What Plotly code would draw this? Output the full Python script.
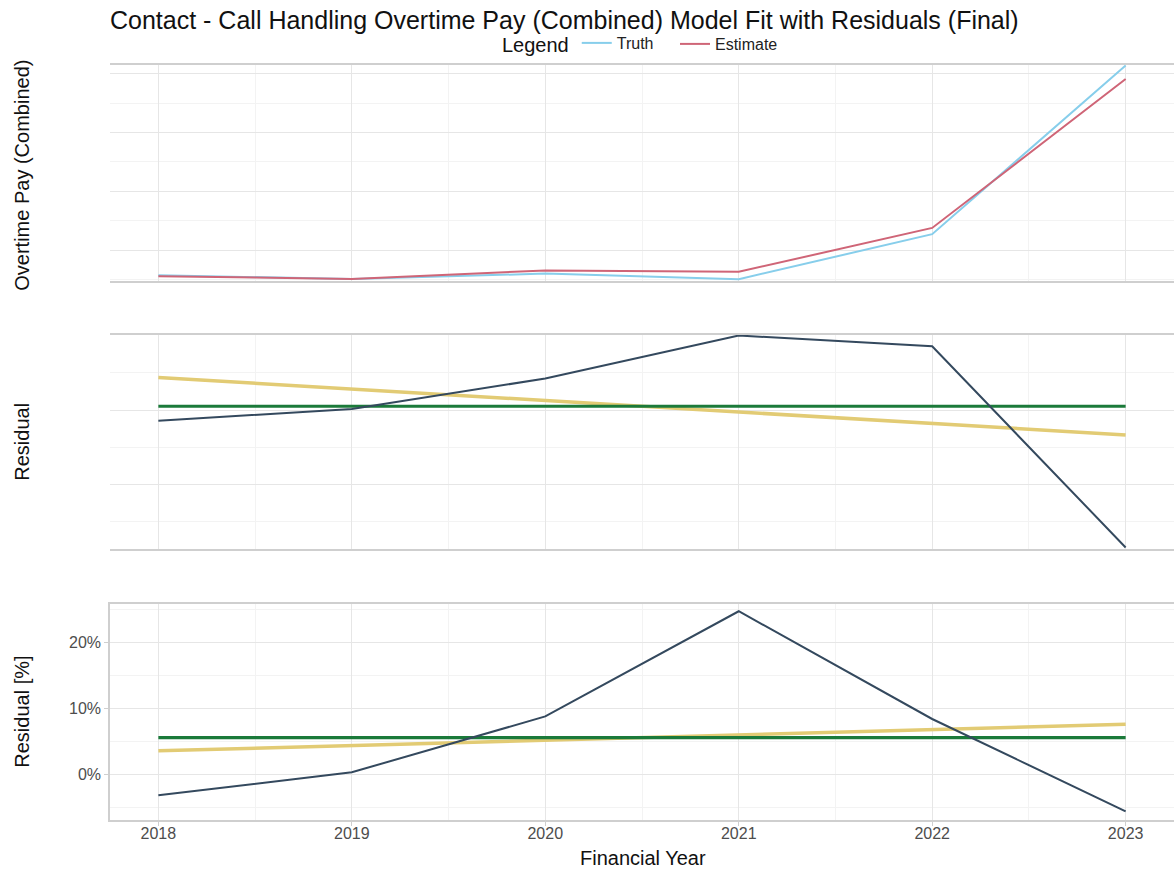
import numpy as np
import plotly.graph_objects as go

# Financial years and model values (GBP)
years = [2018, 2019, 2020, 2021, 2022, 2023]
truth = [22900, 20300, 24000, 20200, 50800, 165600]
estimate = [22180, 20370, 26110, 25190, 55070, 156390]

truth_arr = np.array(truth, dtype=float)
est_arr = np.array(estimate, dtype=float)
residual = est_arr - truth_arr
residual_pct = residual / truth_arr * 100

# Mean level and linear trend of the residuals
res_mean = np.full(len(years), residual.mean())
res_fit = np.polyval(np.polyfit(years, residual, 1), years)
pct_mean = np.full(len(years), residual_pct.mean())
pct_fit = np.polyval(np.polyfit(years, residual_pct, 1), years)

C_TRUTH = "#87CEEB"
C_EST = "#CF6577"
C_RES = "#34495E"
C_MEAN = "#1B7A3A"
C_TREND = "#E2CB74"
FONT = "Liberation Sans, Arial, sans-serif"
GRID = "#E6E6E6"
GRID_MINOR = "#F3F3F3"
AXLINE = "#CFCFCF"

W, H = 1174, 875
L = 110


def py(px):
    return 1 - px / H


def pxx(px):
    return (px - L) / (W - L)


fig = go.Figure()

# Top panel: truth vs estimate
fig.add_trace(go.Scatter(x=years, y=truth, mode="lines", name="Truth", legend="legend",
                         line=dict(color=C_TRUTH, width=2), xaxis="x", yaxis="y"))
fig.add_trace(go.Scatter(x=years, y=estimate, mode="lines", name="Estimate", legend="legend2",
                         line=dict(color=C_EST, width=2), xaxis="x", yaxis="y"))

# Middle panel: residuals
fig.add_trace(go.Scatter(x=years, y=res_fit, mode="lines", showlegend=False,
                         line=dict(color=C_TREND, width=3.5), xaxis="x2", yaxis="y2"))
fig.add_trace(go.Scatter(x=years, y=res_mean, mode="lines", showlegend=False,
                         line=dict(color=C_MEAN, width=3.2), xaxis="x2", yaxis="y2"))
fig.add_trace(go.Scatter(x=years, y=residual, mode="lines", showlegend=False,
                         line=dict(color=C_RES, width=2), xaxis="x2", yaxis="y2"))

# Bottom panel: residuals in percent
fig.add_trace(go.Scatter(x=years, y=pct_fit, mode="lines", showlegend=False,
                         line=dict(color=C_TREND, width=3.5), xaxis="x3", yaxis="y3"))
fig.add_trace(go.Scatter(x=years, y=pct_mean, mode="lines", showlegend=False,
                         line=dict(color=C_MEAN, width=3.2), xaxis="x3", yaxis="y3"))
fig.add_trace(go.Scatter(x=years, y=residual_pct, mode="lines", showlegend=False,
                         line=dict(color=C_RES, width=2), xaxis="x3", yaxis="y3"))

xcommon = dict(range=[2017.75, 2023.25], dtick=1, tick0=2018,
               showgrid=True, gridcolor=GRID, gridwidth=1,
               minor=dict(dtick=0.5, showgrid=True, gridcolor=GRID_MINOR, gridwidth=1),
               showline=True, linecolor=AXLINE, linewidth=1.5, mirror=True,
               zeroline=False)

legend_common = dict(orientation="h", xanchor="left", y=py(44), yanchor="middle",
                     font=dict(size=16, color="#222222"), bgcolor="rgba(0,0,0,0)")

fig.update_layout(
    width=W, height=H,
    margin=dict(l=L, r=0, t=0, b=0),
    paper_bgcolor="white", plot_bgcolor="white",
    font=dict(family=FONT, color="#222222"),
    xaxis=dict(**xcommon, anchor="y", showticklabels=False, ticks=""),
    xaxis2=dict(**xcommon, anchor="y2", showticklabels=False, ticks=""),
    xaxis3=dict(**xcommon, anchor="y3", showticklabels=True, ticks="outside",
                ticklen=5, tickcolor=AXLINE, ticklabelstandoff=-6,
                tickfont=dict(size=16, color="#4D4D4D", family=FONT)),
    yaxis=dict(domain=[py(281), py(64.5)], anchor="x", range=[18950, 166300],
               dtick=40000, tick0=0, showgrid=True, gridcolor=GRID,
               minor=dict(dtick=20000, tick0=0, showgrid=True, gridcolor=GRID_MINOR),
               showticklabels=False, zeroline=False),
    yaxis2=dict(domain=[py(549), py(334.5)], anchor="x2", range=[-9313, 5058],
                dtick=5000, tick0=0, showgrid=True, gridcolor=GRID,
                minor=dict(dtick=2500, tick0=0, showgrid=True, gridcolor=GRID_MINOR),
                showticklabels=False, zeroline=False),
    yaxis3=dict(domain=[py(819.5), py(604)], anchor="x3", range=[-6.8, 25.8],
                dtick=10, tick0=0, ticksuffix="%", showgrid=True, gridcolor=GRID,
                minor=dict(dtick=5, tick0=0, showgrid=True, gridcolor=GRID_MINOR),
                showline=True, linecolor=AXLINE, linewidth=1.5, mirror=False,
                ticks="outside", ticklen=4, tickcolor=AXLINE,
                tickfont=dict(size=16, color="#4D4D4D", family=FONT),
                zeroline=False),
    title=dict(text="Contact - Call Handling Overtime Pay (Combined) Model Fit with Residuals (Final)",
               x=L / W, xanchor="left", xref="container",
               y=1 - 20 / H, yanchor="middle", yref="container",
               font=dict(size=25, color="#111111", family=FONT)),
    legend=dict(**legend_common, x=pxx(500),
                title=dict(text="Legend", side="left", font=dict(size=20, color="#111111"))),
    legend2=dict(**legend_common, x=pxx(675)),
)

axis_titles = [
    ("Overtime Pay (Combined)", (64.5 + 281) / 2 + 3),
    ("Residual", (334.5 + 549) / 2),
    ("Residual [%]", (604 + 819.5) / 2),
]
for text, ypx in axis_titles:
    fig.add_annotation(text=text, xref="paper", yref="paper",
                       x=pxx(22), y=py(ypx), textangle=-90,
                       showarrow=False, xanchor="center", yanchor="middle",
                       font=dict(size=20, color="#111111", family=FONT))

fig.add_annotation(text="Financial Year", xref="paper", yref="paper",
                   x=pxx(642.5), y=py(858), showarrow=False,
                   xanchor="center", yanchor="middle",
                   font=dict(size=20, color="#111111", family=FONT))

fig.write_html("out.html")
